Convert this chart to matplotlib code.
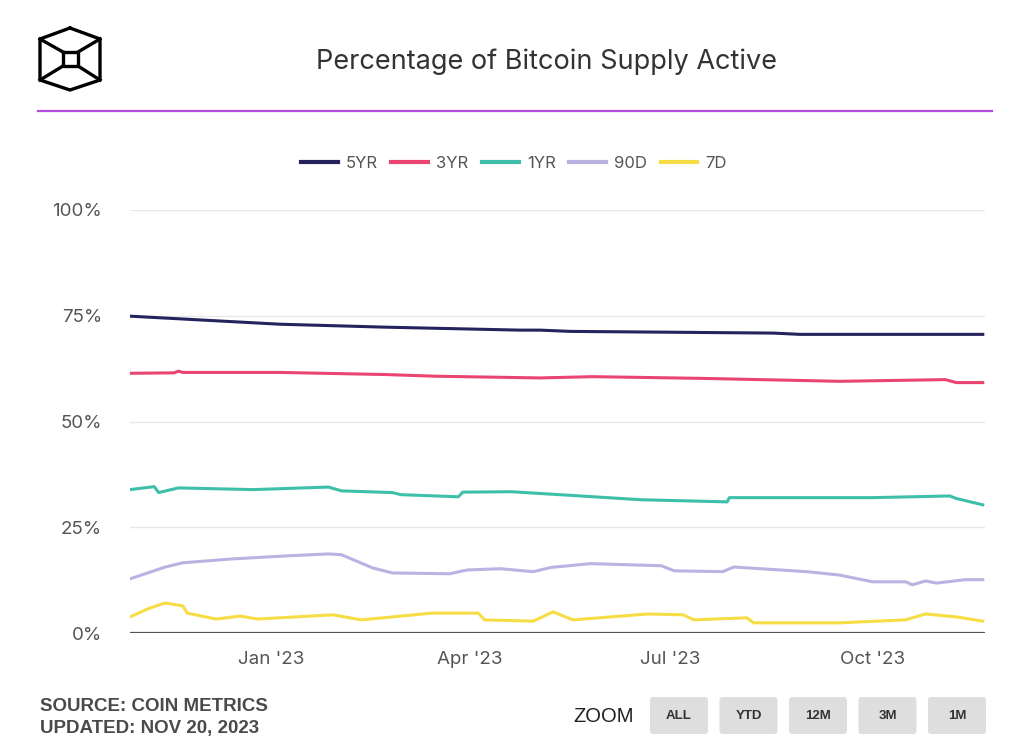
import pandas as pd
import numpy as np
import matplotlib.pyplot as plt
import matplotlib.dates as mdates
from matplotlib.patches import FancyBboxPatch

plt.rcParams['font.family'] = ['Inter', 'DejaVu Sans']

# ---- data (percent of supply) ----
yr5_dates = ["2022-10-29", "2023-01-05", "2023-02-22", "2023-04-24", "2023-05-03", "2023-05-17",
             "2023-07-03", "2023-08-17", "2023-08-29", "2023-11-20"]
yr5_vals = [74.9, 73.0, 72.3, 71.6, 71.6, 71.3, 71.1, 70.9, 70.6, 70.6]

yr3_dates = ["2022-10-29", "2022-11-18", "2022-11-20", "2022-11-22", "2023-01-05", "2023-02-22",
             "2023-03-17", "2023-05-03", "2023-05-27", "2023-07-15", "2023-09-16", "2023-11-03",
             "2023-11-08", "2023-11-20"]
yr3_vals = [61.4, 61.5, 61.9, 61.6, 61.6, 61.1, 60.7, 60.3, 60.6, 60.2, 59.5, 59.9, 59.2, 59.2]

yr1_dates = ["2022-10-29", "2022-11-09", "2022-11-11", "2022-11-20", "2022-12-24", "2023-01-27",
             "2023-02-02", "2023-02-25", "2023-03-01", "2023-03-27", "2023-03-29", "2023-04-20",
             "2023-05-12", "2023-06-18", "2023-07-27", "2023-07-28", "2023-10-01", "2023-11-05",
             "2023-11-08", "2023-11-20"]
yr1_vals = [33.9, 34.6, 33.2, 34.3, 33.9, 34.5, 33.6, 33.2, 32.7, 32.2, 33.3, 33.4,
            32.7, 31.5, 31.0, 32.0, 32.0, 32.4, 31.8, 30.3]

d90_dates = ["2022-10-29", "2022-11-14", "2022-11-22", "2022-12-14", "2023-01-07", "2023-01-27",
             "2023-02-02", "2023-02-16", "2023-02-25", "2023-03-23", "2023-03-31", "2023-04-15",
             "2023-04-30", "2023-05-08", "2023-05-26", "2023-06-27", "2023-07-03", "2023-07-25",
             "2023-07-30", "2023-09-01", "2023-09-16", "2023-10-01", "2023-10-16", "2023-10-19",
             "2023-10-25", "2023-10-30", "2023-11-12", "2023-11-20"]
d90_vals = [12.8, 15.6, 16.6, 17.5, 18.2, 18.7, 18.5, 15.4, 14.2, 14.0, 14.9, 15.2,
            14.5, 15.5, 16.4, 15.9, 14.7, 14.5, 15.6, 14.5, 13.7, 12.1, 12.1, 11.4,
            12.3, 11.8, 12.6, 12.6]

d7_dates = ["2022-10-29", "2022-11-07", "2022-11-14", "2022-11-22", "2022-11-24", "2022-12-07",
            "2022-12-18", "2022-12-26", "2023-01-29", "2023-02-11", "2023-03-15", "2023-04-05",
            "2023-04-08", "2023-04-30", "2023-05-09", "2023-05-18", "2023-06-21", "2023-07-07",
            "2023-07-12", "2023-08-05", "2023-08-08", "2023-09-16", "2023-10-16", "2023-10-25",
            "2023-11-08", "2023-11-20"]
d7_vals = [3.8, 5.9, 7.1, 6.4, 4.7, 3.3, 4.0, 3.3, 4.3, 3.1, 4.7, 4.7, 3.1, 2.8, 5.0,
           3.1, 4.5, 4.3, 3.1, 3.6, 2.4, 2.4, 3.1, 4.5, 3.8, 2.8]

series = [
    ("5YR", yr5_dates, yr5_vals, "#25235e"),
    ("3YR", yr3_dates, yr3_vals, "#ea4570"),
    ("1YR", yr1_dates, yr1_vals, "#3ebfaa"),
    ("90D", d90_dates, d90_vals, "#bab3e2"),
    ("7D", d7_dates, d7_vals, "#f6dc45"),
]

W, H = 1028, 756
fig = plt.figure(figsize=(W / 100, H / 100), dpi=100)
fig.patch.set_facecolor("white")

# decoration layer in pixel coordinates
deco = fig.add_axes([0, 0, 1, 1], zorder=0)
deco.set_xlim(0, W)
deco.set_ylim(H, 0)
deco.axis("off")

# logo (cube)
hexx = [70, 100, 100, 70, 40, 40, 70]
hexy = [28, 39, 80, 90, 80, 39, 28]
deco.plot(hexx, hexy, color="black", lw=2.4, solid_joinstyle="miter")
sq = [(63, 52), (78, 52), (78, 66), (63, 66), (63, 52)]
deco.plot([p[0] for p in sq], [p[1] for p in sq], color="black", lw=2.4)
deco.plot([40, 63], [39, 52], color="black", lw=2.4)
deco.plot([100, 78], [39, 52], color="black", lw=2.4)
deco.plot([40, 63], [80, 66], color="black", lw=2.4)
deco.plot([100, 78], [80, 66], color="black", lw=2.4)

deco.text(546, 69, "Percentage of Bitcoin Supply Active", fontsize=19.5, color="#333333",
          ha="center", va="baseline")
deco.plot([38, 992], [111, 111], color="#b24fe0", lw=1.6)

# footer
deco.text(40, 711, "SOURCE: COIN METRICS", fontsize=13.5, color="#4a4a4a", ha="left",
          va="baseline", family="Liberation Sans", fontweight="bold")
deco.text(40, 733, "UPDATED: NOV 20, 2023", fontsize=13.5, color="#4a4a4a", ha="left",
          va="baseline", family="Liberation Sans", fontweight="bold")
deco.text(604, 716, "ZOOM", fontsize=14.5, color="#222222", ha="center", va="center",
          family="Liberation Sans")
buttons = ["ALL", "YTD", "12M", "3M", "1M"]
for i, lab in enumerate(buttons):
    x0 = 650 + i * 69.5
    deco.add_patch(FancyBboxPatch((x0, 697), 58, 37, boxstyle="round,pad=0,rounding_size=3",
                                  facecolor="#dedede", edgecolor="none"))
    deco.text(x0 + 29, 716, lab, fontsize=9.5, color="#333333", ha="center", va="center",
              family="Liberation Sans", fontweight="bold")

# main chart
ax = fig.add_axes([130 / W, 1 - 633 / H, 855 / W, 423 / H], zorder=1)
ax.patch.set_alpha(0)
for name, d, v, c in series:
    ax.plot(pd.to_datetime(d), v, color=c, lw=2.2, label=name, solid_joinstyle="round")

ax.set_xlim(pd.Timestamp("2022-10-29"), pd.Timestamp("2023-11-21"))
ax.set_ylim(0, 100)
ax.set_yticks([0, 25, 50, 75, 100])
ax.set_yticklabels(["0%", "25%", "50%", "75%", "100%"])
ax.set_xticks(pd.to_datetime(["2023-01-01", "2023-04-01", "2023-07-01", "2023-10-01"]))
ax.xaxis.set_major_formatter(mdates.DateFormatter("%b '%y"))
ax.tick_params(axis="both", length=0, labelsize=13.5, labelcolor="#555555")
ax.tick_params(axis="y", pad=20)
ax.tick_params(axis="x", pad=13)
for y in [25, 50, 75, 100]:
    ax.axhline(y, color="#e8e8e8", lw=1, zorder=0)
ax.axhline(0, color="#555555", lw=1.6, zorder=0)
for s in ax.spines.values():
    s.set_visible(False)

leg = ax.legend(loc="center", bbox_to_anchor=(514 / W, 1 - 163 / H),
                bbox_transform=fig.transFigure, ncol=5, frameon=False,
                fontsize=12, handlelength=2.2, columnspacing=0.8, handletextpad=0.5)
for t in leg.get_texts():
    t.set_color("#555555")
for h in leg.get_lines():
    h.set_linewidth(3)

fig.savefig("out.png", dpi=100)
